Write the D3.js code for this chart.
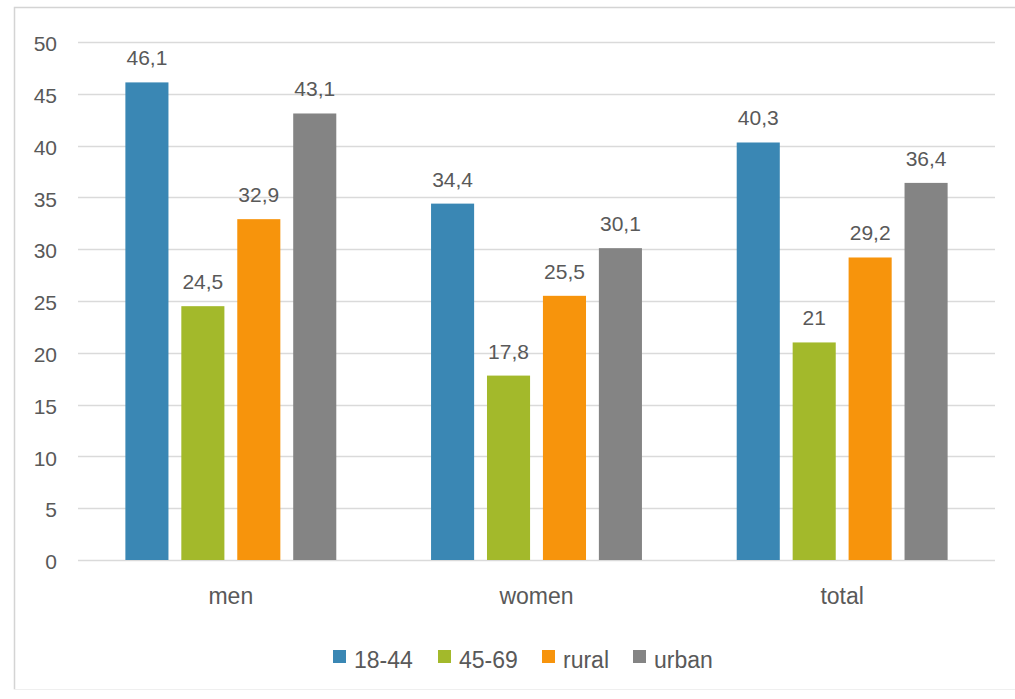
<!DOCTYPE html>
<html>
<head>
<meta charset="utf-8">
<script src="https://cdn.jsdelivr.net/npm/d3@7"></script>
<style>
  html, body { margin: 0; padding: 0; background: #fff; }
  svg text { font-family: "Liberation Sans", Arial, sans-serif; fill: #595959; }
</style>
</head>
<body>
<div id="chart"></div>
<script>
// chart data
const categories = ['men', 'women', 'total'];
const series = ['18-44', '45-69', 'rural', 'urban'];
const values = {
  '18-44': [46.1, 34.4, 40.3],
  '45-69': [24.5, 17.8, 21],
  rural: [32.9, 25.5, 29.2],
  urban: [43.1, 30.1, 36.4],
};
const yTicks = [0, 5, 10, 15, 20, 25, 30, 35, 40, 45, 50];
const colors = ['#3a87b4', '#a3b92b', '#f7940c', '#848484'];

const width = 1015;
const height = 699;
const margin = { left: 78, right: 20, top: 42, bottom: 139 };

const svg = d3.select('#chart').append('svg')
  .attr('width', width)
  .attr('height', height);

// frame
svg.append('path')
  .attr('d', `M14.5,${height - 9.5} V7.5 H${width}`)
  .attr('fill', 'none')
  .attr('stroke', '#d4d4d4')
  .attr('stroke-width', 1.5);
svg.append('line')
  .attr('x1', 14).attr('x2', width)
  .attr('y1', height - 9.5).attr('y2', height - 9.5)
  .attr('stroke', '#efefef');

const x0 = d3.scaleBand()
  .domain(categories)
  .range([margin.left, width - margin.right])
  .paddingInner(0.31)
  .paddingOuter(0.155);

const x1 = d3.scaleBand()
  .domain(series)
  .range([0, x0.bandwidth()])
  .paddingInner(0.23);

const y = d3.scaleLinear()
  .domain([0, 50])
  .range([height - margin.bottom, margin.top]);

// gridlines
svg.append('g')
  .selectAll('line')
  .data(yTicks)
  .join('line')
  .attr('x1', margin.left)
  .attr('x2', width - margin.right)
  .attr('y1', (d) => Math.round(y(d)) + 0.5)
  .attr('y2', (d) => Math.round(y(d)) + 0.5)
  .attr('stroke', '#dadada')
  .attr('stroke-width', 1.5);

// y axis labels
const yAxis = d3.axisLeft(y)
  .tickValues(yTicks)
  .tickSize(0)
  .tickPadding(21);
svg.append('g')
  .attr('transform', `translate(${margin.left}, 2)`)
  .call(yAxis)
  .call((g) => g.select('.domain').remove())
  .call((g) => g.selectAll('text')
    .attr('font-size', 21)
    .attr('fill', '#595959')
    .style('font-family', '"Liberation Sans", Arial, sans-serif'));

// x axis labels
const xAxis = d3.axisBottom(x0)
  .tickSize(0)
  .tickPadding(28);
svg.append('g')
  .attr('transform', `translate(0, ${y(0)})`)
  .call(xAxis)
  .call((g) => g.select('.domain').remove())
  .call((g) => g.selectAll('text')
    .attr('font-size', 23)
    .attr('fill', '#595959')
    .style('font-family', '"Liberation Sans", Arial, sans-serif'));

// bars
const groups = svg.append('g')
  .selectAll('g')
  .data(categories)
  .join('g')
  .attr('transform', (d) => `translate(${x0(d)}, 0)`);

const cells = groups.selectAll('g')
  .data((c, ci) => series.map((s, si) => ({ s, si, v: values[s][ci] })))
  .join('g');

cells.append('rect')
  .attr('x', (d) => x1(d.s))
  .attr('y', (d) => y(d.v))
  .attr('width', x1.bandwidth())
  .attr('height', (d) => y(0) - y(d.v))
  .attr('fill', (d) => colors[d.si]);

cells.append('text')
  .attr('x', (d) => x1(d.s) + x1.bandwidth() / 2)
  .attr('y', (d) => y(d.v) - 17)
  .attr('text-anchor', 'middle')
  .attr('font-size', 21)
  .text((d) => String(d.v).replace('.', ','));

// legend
const legendX = [333, 438, 542, 633];
const legend = svg.append('g')
  .selectAll('g')
  .data(series)
  .join('g')
  .attr('transform', (d, i) => `translate(${legendX[i]}, 668)`);

legend.append('rect')
  .attr('x', 0)
  .attr('y', -18)
  .attr('width', 13)
  .attr('height', 13)
  .attr('fill', (d, i) => colors[i]);

legend.append('text')
  .attr('x', 21)
  .attr('y', 0)
  .attr('font-size', 23)
  .text((d) => d);
</script>
</body>
</html>
